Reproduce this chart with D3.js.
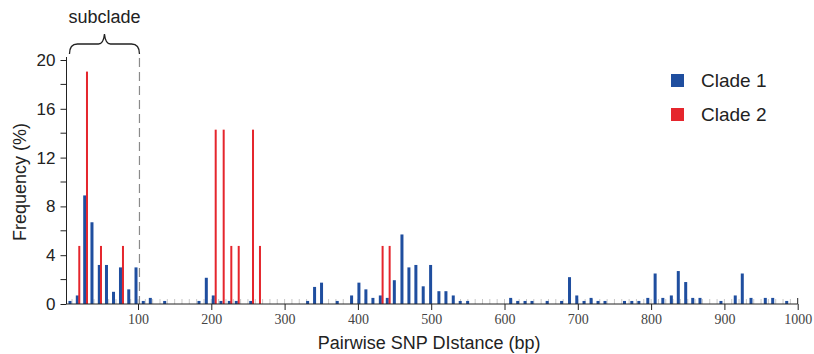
<!DOCTYPE html>
<html><head><meta charset="utf-8">
<script src="https://cdn.jsdelivr.net/npm/d3@7"></script>
<style>body{margin:0;background:#fff}svg{display:block}</style>
</head><body><svg id="c" width="814" height="354"></svg>
<script>
// ---- data ----
const clade1Dist = [7.2,17.2,27.3,37.2,47.2,57,66.6,76.1,87.4,97.3,107.2,116.8,136.4,
  183.2,193.2,202.7,213.2,224.6,234.1,253.8,
  331.4,340.9,350.4,371.8,391.4,401.4,410.9,420.5,430.6,440.1,449.7,460.1,469.6,479.1,489.1,499.2,510.5,520.1,530.1,539.6,549.7,
  608.4,618,628,637.5,658.2,677.9,688.7,698.6,708.5,718.1,727.6,737.1,
  763.7,773.7,783.3,795.5,805.5,816,827.6,837.1,847.2,856.8,866.7,895.3,914.8,924.4,936.3,955.8,965.9,985];
const clade1Freq = [0.25,0.7,8.9,6.7,3.2,3.2,1.0,3.0,1.2,3.0,0.25,0.5,0.25,
  0.25,2.15,0.7,0.25,0.25,0.25,0.25,
  0.25,1.4,1.75,0.25,0.7,1.75,1.2,0.5,0.7,0.5,1.95,5.7,3.0,3.2,1.45,3.2,1.05,1.05,0.7,0.25,0.25,
  0.5,0.25,0.25,0.25,0.25,0.25,2.2,0.7,0.25,0.5,0.25,0.25,
  0.25,0.25,0.25,0.5,2.5,0.5,0.7,2.7,1.8,0.5,0.5,0.25,0.7,2.5,0.5,0.5,0.5,0.25];
const clade2Dist = [19.9,30.4,49.5,79.5,206,216.9,227.3,237.4,256.9,266.4,433.7,443.3];
const clade2Freq = [4.76,19.05,4.76,4.76,14.29,14.29,4.76,4.76,14.29,4.76,4.76,4.76];
const xTicks = [100,200,300,400,500,600,700,800,900,1000];
const xMinorTicks = d3.range(10, 1000, 10);
const yTicks = [0,4,8,12,16,20];
const yMinorTicks = [2,6,10,14,18];
const seriesNames = ["Clade 1","Clade 2"];
const seriesColors = ["#1f4e9f","#e5262d"];
const subcladeLimit = 102;

// ---- drawing ----
const svg = d3.select("#c");
const x = d3.scaleLinear().domain([0,1000]).range([64.7,797.7]);
const y = d3.scaleLinear().domain([0,20]).range([304,60]);
const axisX = 66.5;

// minor x ticks (grey, inward)
svg.append("g").selectAll("line").data(xMinorTicks).join("line")
  .attr("x1", d => x(d)).attr("x2", d => x(d))
  .attr("y1", y(0)).attr("y2", y(0) - 5)
  .attr("stroke", "#c8c8c8").attr("stroke-width", 1);

// dashed subclade line
svg.append("line")
  .attr("x1", x(subcladeLimit)).attr("x2", x(subcladeLimit))
  .attr("y1", 58).attr("y2", y(0))
  .attr("stroke", "#8a8a8a").attr("stroke-width", 1.2)
  .attr("stroke-dasharray", "9,5");

// bars clade 1
svg.append("g").selectAll("rect").data(clade1Dist).join("rect")
  .attr("x", d => x(d) - 1.5).attr("width", 3)
  .attr("y", (d,i) => y(clade1Freq[i]))
  .attr("height", (d,i) => y(0) - y(clade1Freq[i]))
  .attr("fill", seriesColors[0]);

// bars clade 2
svg.append("g").selectAll("rect").data(clade2Dist).join("rect")
  .attr("x", d => x(d) - 1).attr("width", 2)
  .attr("y", (d,i) => y(clade2Freq[i]))
  .attr("height", (d,i) => y(0) - y(clade2Freq[i]))
  .attr("fill", seriesColors[1]);

// x axis
const gx = svg.append("g").attr("transform", `translate(0,${y(0)})`)
  .call(d3.axisBottom(x).tickValues(xTicks).tickFormat(d3.format("d")).tickSize(6).tickPadding(4));
gx.select(".domain").attr("d", `M${axisX},0H${x(1000)}`).attr("stroke", "#222");
gx.selectAll(".tick line").attr("stroke", "#222");
gx.selectAll(".tick text").attr("font-family", "'Liberation Serif', serif")
  .attr("font-size", 14).attr("fill", "#444");
svg.append("line").attr("x1", x(1000)).attr("x2", x(1000))
  .attr("y1", y(0) - 6).attr("y2", y(0)).attr("stroke", "#222");

// y axis
const gy = svg.append("g").attr("transform", `translate(${axisX},0)`)
  .call(d3.axisLeft(y).tickValues(yTicks).tickSize(6).tickPadding(5));
gy.select(".domain").attr("d", `M0,${y(0)}V57`).attr("stroke", "#222");
gy.selectAll(".tick line").attr("stroke", "#222");
gy.selectAll(".tick text").attr("font-family", "'Liberation Sans', Arial, sans-serif")
  .attr("font-size", 17).attr("fill", "#222");
svg.append("g").selectAll("line").data(yMinorTicks).join("line")
  .attr("x1", axisX - 6).attr("x2", axisX)
  .attr("y1", d => y(d)).attr("y2", d => y(d))
  .attr("stroke", "#222");

// axis titles
svg.append("text").attr("x", x(500) - 2).attr("y", 349)
  .attr("text-anchor", "middle")
  .attr("font-family", "'Liberation Sans', Arial, sans-serif").attr("font-size", 18).attr("fill", "#222")
  .text("Pairwise SNP DIstance (bp)");
svg.append("text").attr("transform", `translate(26,${y(10)}) rotate(-90)`)
  .attr("text-anchor", "middle")
  .attr("font-family", "'Liberation Sans', Arial, sans-serif").attr("font-size", 18).attr("fill", "#222")
  .text("Frequency (%)");

// subclade brace + label
const bx0 = x(6.5), bx1 = x(subcladeLimit), bm = (bx0 + bx1) / 2;
svg.append("path")
  .attr("d", `M${bx0},54 Q${bx0},44 ${bx0+8},44 L${bm-6},44 Q${bm-1},44 ${bm},34 Q${bm+1},44 ${bm+6},44 L${bx1-8},44 Q${bx1},44 ${bx1},54`)
  .attr("fill", "none").attr("stroke", "#222").attr("stroke-width", 1.3);
svg.append("text").attr("x", bm).attr("y", 23)
  .attr("text-anchor", "middle")
  .attr("font-family", "'Liberation Sans', Arial, sans-serif").attr("font-size", 18).attr("fill", "#222")
  .text("subclade");

// legend
const lg = svg.append("g").selectAll("g").data(seriesNames).join("g")
  .attr("transform", (d,i) => `translate(671,${74 + i*34})`);
lg.append("rect").attr("width", 13).attr("height", 13).attr("fill", (d,i) => seriesColors[i]);
lg.append("text").attr("x", 30).attr("y", 12.5)
  .attr("font-family", "'Liberation Sans', Arial, sans-serif").attr("font-size", 19).attr("fill", "#222")
  .text(d => d);
</script>
</body></html>
